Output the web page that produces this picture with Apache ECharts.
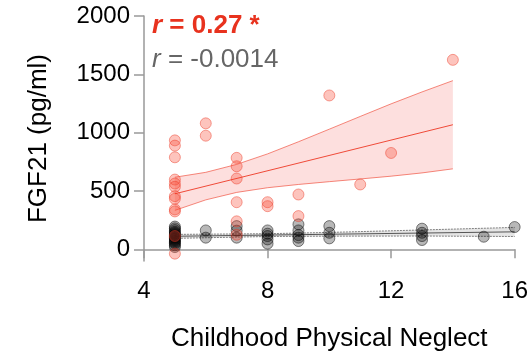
<!DOCTYPE html>
<html><head><meta charset="utf-8">
<script src="https://cdn.jsdelivr.net/npm/echarts@6/dist/echarts.min.js"></script>
<style>html,body{margin:0;padding:0;background:#fff}#c{width:531px;height:357px}</style>
</head><body><div id="c"></div>
<script>
const xTicks = [4, 8, 12, 16];
const yTicks = [0, 500, 1000, 1500, 2000];

const redPoints = [
  [5,934],[5,889],[5,789],[5,598],[5,564],[5,536],[5,456],[5,433],[5,342],[5,325],[5,114],[5,-37],
  [6,1080],[6,974],
  [7,784],[7,712],[7,607],[7,404],[7,240],[7,125],
  [8,404],[8,370],
  [9,470],[9,285],
  [10,1319],[11,556],[12,826],[14,1624]
];
const greyPoints = [
  [5,195],[5,180],[5,165],[5,150],[5,140],[5,130],[5,120],[5,110],[5,100],[5,90],[5,80],[5,70],[5,60],[5,50],[5,35],[5,20],
  [6,162],[6,100],
  [7,199],[7,160],[7,100],
  [8,162],[8,134],[8,114],[8,85],[8,49],
  [9,214],[9,162],[9,122],[9,100],[9,71],
  [10,199],[10,142],[10,94],
  [13,177],[13,142],[13,114],[13,80],
  [15,108],[16,191]
];

const redBandX = [5,6,7,8,9,10,11,12,13,14];
const redBandUpper = [618,660,728,818,922,1030,1139,1247,1349,1446];
const redBandLower = [334,424,488,528,556,580,603,627,655,690];
const redFit = [[5,476],[14,1068]];

const greyBandX = [5,8,10,13,16];
const greyBandUpper = [128,134,145,166,188];
const greyBandLower = [94,110,113,114,110];
const greyFit = [[5,112],[16,150]];

const FONT = 'Liberation Sans, Arial, sans-serif';

function band(xs, up, lo, fill, z) {
  return {
    type: 'custom', silent: true, z: z,
    data: [[xs[0], up[0]]],
    renderItem: function (params, api) {
      const pts = [];
      for (let i = 0; i < xs.length; i++) pts.push(api.coord([xs[i], up[i]]));
      for (let i = xs.length - 1; i >= 0; i--) pts.push(api.coord([xs[i], lo[i]]));
      return { type: 'polygon', shape: { points: pts }, style: { fill: fill, stroke: null } };
    }
  };
}
function edge(xs, vals, color, type, w, z) {
  return {
    type: 'line', silent: true, symbol: 'none', z: z,
    data: xs.map((x, i) => [x, vals[i]]),
    lineStyle: { color: color, type: type, width: w }
  };
}

const chart = echarts.init(document.getElementById('c'), null, { renderer: 'canvas' });
chart.setOption({
  animation: false,
  backgroundColor: '#fff',
  grid: { left: 144, right: 16, top: 16, bottom: 96 },
  xAxis: {
    type: 'value', min: 4, max: 16, interval: 4,
    name: 'Childhood Physical Neglect', nameLocation: 'middle', nameGap: 65,
    nameTextStyle: { fontSize: 26, color: '#000', fontFamily: FONT },
    axisLine: { show: true, lineStyle: { color: '#999', width: 1.5 } },
    axisTick: { show: true, length: 9, lineStyle: { color: '#999', width: 1.5 } },
    axisLabel: { fontSize: 24, color: '#000', fontFamily: FONT, margin: 18,
      formatter: v => String(v) },
    splitLine: { show: false }
  },
  yAxis: {
    type: 'value', min: -100, max: 2000,
    name: 'FGF21 (pg/ml)', nameLocation: 'middle', nameGap: 92,
    nameTextStyle: { fontSize: 26, color: '#000', fontFamily: FONT },
    axisLine: { show: true, lineStyle: { color: '#999', width: 1.5 } },
    axisTick: { show: true, length: 10, lineStyle: { color: '#999', width: 1.5 }, customValues: yTicks },
    axisLabel: { fontSize: 24, color: '#000', fontFamily: FONT, margin: 14, customValues: yTicks,
      formatter: v => String(v) },
    splitLine: { show: false }
  },
  graphic: [
    { type: 'text', x: 152, y: 26, z: 100,
      style: { text: '{i|r} = 0.27 *', x: 0, y: 0, verticalAlign: 'middle',
        fontSize: 26, fontWeight: 'bold', fontFamily: FONT, fill: '#e8321e',
        rich: { i: { fontStyle: 'italic', fontWeight: 'bold', fontSize: 26, fontFamily: FONT, fill: '#e8321e' } } } },
    { type: 'text', x: 152, y: 60, z: 100,
      style: { text: '{i|r} = -0.0014', x: 0, y: 0, verticalAlign: 'middle',
        fontSize: 26, fontFamily: FONT, fill: '#666',
        rich: { i: { fontStyle: 'italic', fontSize: 26, fontFamily: FONT, fill: '#666' } } } }
  ],
  series: [
    band(greyBandX, greyBandUpper, greyBandLower, 'rgba(0,0,0,0.10)', 1),
    band(redBandX, redBandUpper, redBandLower, 'rgba(240,30,20,0.14)', 1),
    edge(greyBandX, greyBandUpper, 'rgba(60,60,60,0.8)', [2, 1], 0.8, 2),
    edge(greyBandX, greyBandLower, 'rgba(60,60,60,0.8)', [2, 1], 0.8, 2),
    { type: 'line', silent: true, symbol: 'none', z: 2, data: greyFit,
      lineStyle: { color: '#555', width: 1 } },
    { type: 'scatter', z: 3, data: greyPoints, symbolSize: 11,
      itemStyle: { color: 'rgba(0,0,0,0.35)', borderColor: 'rgba(0,0,0,0.6)', borderWidth: 1 } },
    edge(redBandX, redBandUpper, 'rgba(240,70,50,0.8)', 'solid', 0.8, 4),
    edge(redBandX, redBandLower, 'rgba(240,70,50,0.8)', 'solid', 0.8, 4),
    { type: 'line', silent: true, symbol: 'none', z: 4, data: redFit,
      lineStyle: { color: '#f04a38', width: 1 } },
    { type: 'scatter', z: 5, data: redPoints, symbolSize: 11,
      itemStyle: { color: 'rgba(250,70,50,0.4)', borderColor: 'rgba(235,50,30,0.55)', borderWidth: 1 } }
  ]
});
</script>
</body></html>
